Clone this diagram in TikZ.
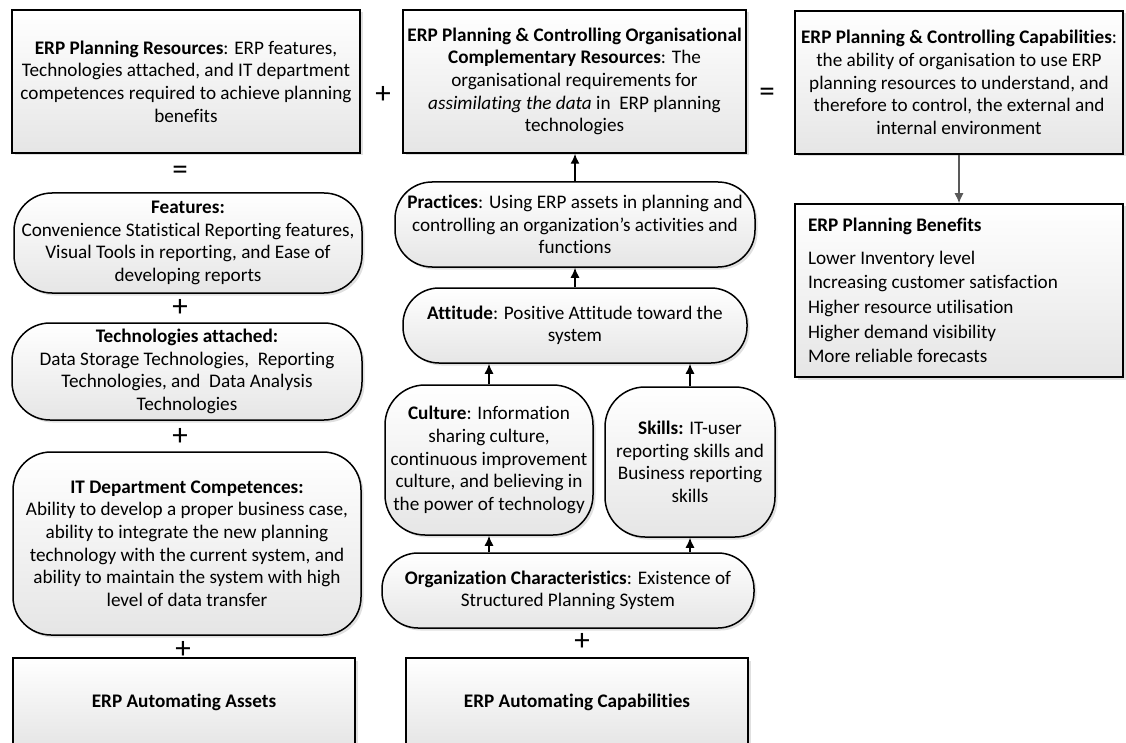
\documentclass[tikz,border=0pt]{standalone}
\usepackage{fontspec}
\setmainfont{Carlito}[Ligatures={NoCommon,NoContextual,NoRare},RawFeature={-liga;-clig;-calt}]
\usetikzlibrary{arrows.meta,shadows}
\begin{document}
\begin{tikzpicture}[x=1pt,y=-1pt,
  base/.style={draw=black, line width=1.5pt, top color=white, bottom color=black!10,
    drop shadow={shadow xshift=2.5pt, shadow yshift=-2.5pt, fill=black!20, opacity=0.6},
    inner sep=0pt, align=flush center, font=\fontsize{19.2}{22.6}\selectfont},
  pill/.style={base, rounded corners=#1},
  pill/.default=38pt,
  conn/.style={line width=1.4pt, -{Latex[length=10pt,width=9pt]}},
  gconn/.style={line width=1.3pt, draw=black!65, -{Latex[length=10pt,width=9pt]}},
  sym/.style={font=\fontsize{31}{31}\selectfont, inner sep=0pt}]
\useasboundingbox (0,0) rectangle (1126,743);

% top row
\node[base, minimum width=348pt, minimum height=143pt] (res) at (186,81.5)
  {\textbf{ERP Planning Resources}: ERP features,\\Technologies attached, and IT department\\competences required to achieve planning\\benefits};
\node[base, minimum width=343pt, minimum height=143pt] (comp) at (574.5,81.5)
  {\textbf{ERP Planning \& Controlling Organisational}\\\textbf{Complementary Resources}: The\\organisational requirements for\\\textit{assimilating the data} in\ \ ERP planning\\technologies};
\node[base, minimum width=328pt, minimum height=143pt] (cap) at (959,82.5)
  {\textbf{ERP Planning \& Controlling Capabilities}:\\the ability of organisation to use ERP\\planning resources to understand, and\\therefore to control, the external and\\internal environment};
\node[base, minimum width=328pt, minimum height=173pt, text width=302pt, align=flush left,
      font=\fontsize{19.2}{24.6}\selectfont] (ben) at (959,290.5)
  {\textbf{ERP Planning Benefits}\\[8pt]Lower Inventory level\\Increasing customer satisfaction\\Higher resource utilisation\\Higher demand visibility\\More reliable forecasts};

\node[sym] (plus1) at (383,95) {+};
\node[sym] (eq1) at (767,95) {=};

% left column
\node[sym] (eq2) at (180,173) {=};
\node[pill, minimum width=348pt, minimum height=100pt] (feat) at (188,243)
  {\textbf{Features:}\\Convenience Statistical Reporting features,\\Visual Tools in reporting, and Ease of\\developing reports};
\node[sym] (plus2) at (180,308) {+};
\node[pill, minimum width=350pt, minimum height=97pt] (tech) at (187,371.5)
  {\textbf{Technologies attached:}\\Data Storage Technologies,\ \ Reporting\\Technologies, and\ \ Data Analysis\\Technologies};
\node[sym] (plus3) at (180,437) {+};
\node[pill, minimum width=348pt, minimum height=183pt] (itc) at (187,543.5)
  {\textbf{IT Department Competences:}\\Ability to develop a proper business case,\\ability to integrate the new planning\\technology with the current system, and\\ability to maintain the system with high\\level of data transfer};
\node[sym] (plus4) at (183,650) {+};
\node[base, minimum width=342pt, minimum height=88pt] (assets) at (184,702)
  {\textbf{ERP Automating Assets}};

% middle column
\node[pill=37pt, minimum width=360pt, minimum height=85pt] (prac) at (575,224.5)
  {\textbf{Practices}: Using ERP assets in planning and\\controlling an organization’s activities and\\functions};
\node[pill=36pt, minimum width=344pt, minimum height=75pt] (att) at (575,325.5)
  {\textbf{Attitude}: Positive Attitude toward the\\system};
\node[pill=40pt, minimum width=208pt, minimum height=150pt] (cult) at (489,460)
  {\textbf{Culture}: Information\\sharing culture,\\continuous improvement\\culture, and believing in\\the power of technology};
\node[pill=40pt, minimum width=170pt, minimum height=150pt] (skill) at (690,462)
  {\textbf{Skills:} IT-user\\reporting skills and\\Business reporting\\skills};
\node[pill=36pt, minimum width=372pt, minimum height=75pt] (org) at (568,590.5)
  {\textbf{Organization Characteristics}: Existence of\\Structured Planning System};
\node[sym] (plus5) at (582,642) {+};
\node[base, minimum width=342pt, minimum height=88pt] (acap) at (577,702)
  {\textbf{ERP Automating Capabilities}};

% connectors
\draw[conn] (prac.north) -- (prac.north |- comp.south);
\draw[conn] (att.north) -- (att.north |- prac.south);
\draw[conn] (cult.north) -- (cult.north |- att.south);
\draw[conn] (skill.north) -- (skill.north |- att.south);
\draw[conn] (cult.south |- org.north) -- (cult.south);
\draw[conn] (skill.south |- org.north) -- (skill.south);
\draw[gconn] (cap.south) -- (ben.north);
\end{tikzpicture}
\end{document}
